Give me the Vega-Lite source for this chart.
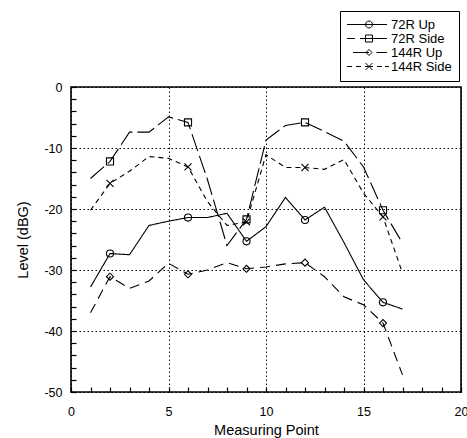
{
  "$schema": "https://vega.github.io/schema/vega-lite/v6.json",
  "width": 390,
  "height": 305,
  "autosize": {"type": "none"},
  "padding": {"left": 71, "top": 87, "right": 6, "bottom": 46},
  "config": {
    "view": {"stroke": "black", "strokeWidth": 1.6},
    "font": "Liberation Sans",
    "axis": {"labelFont": "Liberation Sans", "titleFont": "Liberation Sans", "labelColor": "black", "titleColor": "black"}
  },
  "data": {
    "values": [
      {"series": "72R Up", "x": 1, "y": -32.8},
      {"series": "72R Up", "x": 2, "y": -27.3},
      {"series": "72R Up", "x": 3, "y": -27.5},
      {"series": "72R Up", "x": 4, "y": -22.7},
      {"series": "72R Up", "x": 5, "y": -22.0},
      {"series": "72R Up", "x": 6, "y": -21.4},
      {"series": "72R Up", "x": 7, "y": -21.4},
      {"series": "72R Up", "x": 8, "y": -20.7},
      {"series": "72R Up", "x": 9, "y": -25.3},
      {"series": "72R Up", "x": 10, "y": -22.9},
      {"series": "72R Up", "x": 11, "y": -18.1},
      {"series": "72R Up", "x": 12, "y": -21.8},
      {"series": "72R Up", "x": 13, "y": -19.7},
      {"series": "72R Up", "x": 14, "y": -25.5},
      {"series": "72R Up", "x": 15, "y": -31.6},
      {"series": "72R Up", "x": 16, "y": -35.3},
      {"series": "72R Up", "x": 17, "y": -36.4},
      {"series": "72R Side", "x": 1, "y": -15.0},
      {"series": "72R Side", "x": 2, "y": -12.2},
      {"series": "72R Side", "x": 3, "y": -7.4},
      {"series": "72R Side", "x": 4, "y": -7.4},
      {"series": "72R Side", "x": 5, "y": -4.9},
      {"series": "72R Side", "x": 6, "y": -5.8},
      {"series": "72R Side", "x": 7, "y": -15.2},
      {"series": "72R Side", "x": 8, "y": -26.0},
      {"series": "72R Side", "x": 9, "y": -21.7},
      {"series": "72R Side", "x": 10, "y": -8.7},
      {"series": "72R Side", "x": 11, "y": -6.3},
      {"series": "72R Side", "x": 12, "y": -5.8},
      {"series": "72R Side", "x": 13, "y": -7.3},
      {"series": "72R Side", "x": 14, "y": -8.9},
      {"series": "72R Side", "x": 15, "y": -13.1},
      {"series": "72R Side", "x": 16, "y": -20.2},
      {"series": "72R Side", "x": 17, "y": -25.6},
      {"series": "144R Up", "x": 1, "y": -37.0},
      {"series": "144R Up", "x": 2, "y": -31.1},
      {"series": "144R Up", "x": 3, "y": -33.0},
      {"series": "144R Up", "x": 4, "y": -31.8},
      {"series": "144R Up", "x": 5, "y": -28.9},
      {"series": "144R Up", "x": 6, "y": -30.7},
      {"series": "144R Up", "x": 7, "y": -30.0},
      {"series": "144R Up", "x": 8, "y": -28.8},
      {"series": "144R Up", "x": 9, "y": -29.8},
      {"series": "144R Up", "x": 10, "y": -29.5},
      {"series": "144R Up", "x": 11, "y": -29.0},
      {"series": "144R Up", "x": 12, "y": -28.8},
      {"series": "144R Up", "x": 13, "y": -31.1},
      {"series": "144R Up", "x": 14, "y": -34.4},
      {"series": "144R Up", "x": 15, "y": -35.7},
      {"series": "144R Up", "x": 16, "y": -38.7},
      {"series": "144R Up", "x": 17, "y": -47.2},
      {"series": "144R Side", "x": 1, "y": -20.2},
      {"series": "144R Side", "x": 2, "y": -15.8},
      {"series": "144R Side", "x": 3, "y": -13.8},
      {"series": "144R Side", "x": 4, "y": -11.4},
      {"series": "144R Side", "x": 5, "y": -11.7},
      {"series": "144R Side", "x": 6, "y": -13.1},
      {"series": "144R Side", "x": 7, "y": -18.8},
      {"series": "144R Side", "x": 8, "y": -22.7},
      {"series": "144R Side", "x": 9, "y": -22.1},
      {"series": "144R Side", "x": 10, "y": -11.1},
      {"series": "144R Side", "x": 11, "y": -13.2},
      {"series": "144R Side", "x": 12, "y": -13.2},
      {"series": "144R Side", "x": 13, "y": -13.5},
      {"series": "144R Side", "x": 14, "y": -11.9},
      {"series": "144R Side", "x": 15, "y": -17.4},
      {"series": "144R Side", "x": 16, "y": -21.3},
      {"series": "144R Side", "x": 17, "y": -30.5}
    ]
  },
  "encoding": {
    "x": {
      "field": "x", "type": "quantitative",
      "scale": {"domain": [0, 20], "nice": false, "zero": false},
      "axis": {
        "values": [0,1,2,3,4,5,6,7,8,9,10,11,12,13,14,15,16,17,18,19,20],
        "labelExpr": "datum.value % 5 === 0 ? datum.label : ''",
        "labelOverlap": false, "labelFlush": false,
        "grid": true,
        "gridOpacity": {"condition": {"test": "datum.value % 5 === 0", "value": 1}, "value": 0},
        "gridDash": [1.5, 2.5], "gridColor": "black", "gridWidth": 1,
        "offset": -5, "domain": false,
        "ticks": true, "tickSize": 5, "tickColor": "black", "tickWidth": 1.2,
        "labelPadding": 13, "labelFontSize": 12.5,
        "title": "Measuring Point", "titleFontSize": 14.5, "titleFontWeight": "normal",
        "titleY": 47, "titleBaseline": "alphabetic"
      }
    },
    "y": {
      "field": "y", "type": "quantitative",
      "scale": {"domain": [-50, 0], "nice": false, "zero": false},
      "axis": {
        "values": [-50,-48,-46,-44,-42,-40,-38,-36,-34,-32,-30,-28,-26,-24,-22,-20,-18,-16,-14,-12,-10,-8,-6,-4,-2,0],
        "labelExpr": "datum.value % 10 === 0 ? toString(datum.value) : ''",
        "labelOverlap": false, "labelFlush": false,
        "grid": true,
        "gridOpacity": {"condition": {"test": "datum.value % 10 === 0", "value": 1}, "value": 0},
        "gridDash": [1.5, 2.5], "gridColor": "black", "gridWidth": 1,
        "offset": -5, "domain": false,
        "ticks": true, "tickSize": 5, "tickColor": "black", "tickWidth": 1.2,
        "labelPadding": 9, "labelFontSize": 12.5,
        "title": "Level (dBG)", "titleFontSize": 14.5, "titleFontWeight": "normal",
        "titleX": -49, "titleBaseline": "alphabetic"
      }
    }
  },
  "layer": [
    {
      "mark": {"type": "line", "color": "black", "strokeWidth": 1.1},
      "encoding": {
        "strokeDash": {
          "field": "series", "type": "nominal",
          "scale": {"domain": ["72R Up", "72R Side", "144R Up", "144R Side"], "range": [[1, 0], [18, 5], [10, 6], [5, 4]]},
          "legend": null
        }
      }
    },
    {
      "transform": [{"filter": {"field": "x", "oneOf": [2, 6, 9, 12, 16]}}],
      "mark": {"type": "point", "filled": false, "color": "black", "size": 50, "strokeWidth": 1.1, "opacity": 1},
      "encoding": {
        "shape": {
          "field": "series", "type": "nominal",
          "scale": {"domain": ["72R Up", "72R Side", "144R Up", "144R Side"], "range": ["circle", "square", "diamond", "M-1,-1L1,1M-1,1L1,-1"]},
          "legend": null
        }
      }
    },
    {
      "transform": [{"filter": "datum.x > 100"}],
      "mark": {"type": "point", "filled": false, "color": "black", "opacity": 1},
      "encoding": {
        "shape": {
          "field": "series", "type": "nominal",
          "scale": {
            "domain": ["72R Up", "72R Side", "144R Up", "144R Side"],
            "range": [
              "M-4.4,0H3.6M0.7,0A0.7,0.7,0,1,1,-0.7,0A0.7,0.7,0,1,1,0.7,0",
              "M-4.4,0H-2.8M-1.8,0H3.6M-0.7,-0.7H0.7V0.7H-0.7Z",
              "M-3.2,0H0M1.5,0H3.6M0,-0.6L0.6,0L0,0.6L-0.6,0Z",
              "M-4.4,0H-3.4M-2.6,0H-1.6M-0.8,0H0.8M1.6,0H2.6M3.2,0H4.0M-0.7,-0.7L0.7,0.7M-0.7,0.7L0.7,-0.7"
            ]
          },
          "legend": {
            "title": null,
            "orient": "none", "legendX": 269, "legendY": -76,
            "padding": 7, "strokeColor": "black", "fillColor": "white",
            "symbolSize": 100, "symbolOffset": 15.5, "labelOffset": 15.5,
            "symbolStrokeWidth": 1, "symbolStrokeColor": "black", "symbolFillColor": "transparent", "symbolOpacity": 1,
            "labelFont": "Liberation Sans", "labelFontSize": 13, "labelColor": "black", "labelLimit": 200,
            "rowPadding": 0
          }
        }
      }
    }
  ],
  "resolve": {"scale": {"shape": "independent"}}
}
